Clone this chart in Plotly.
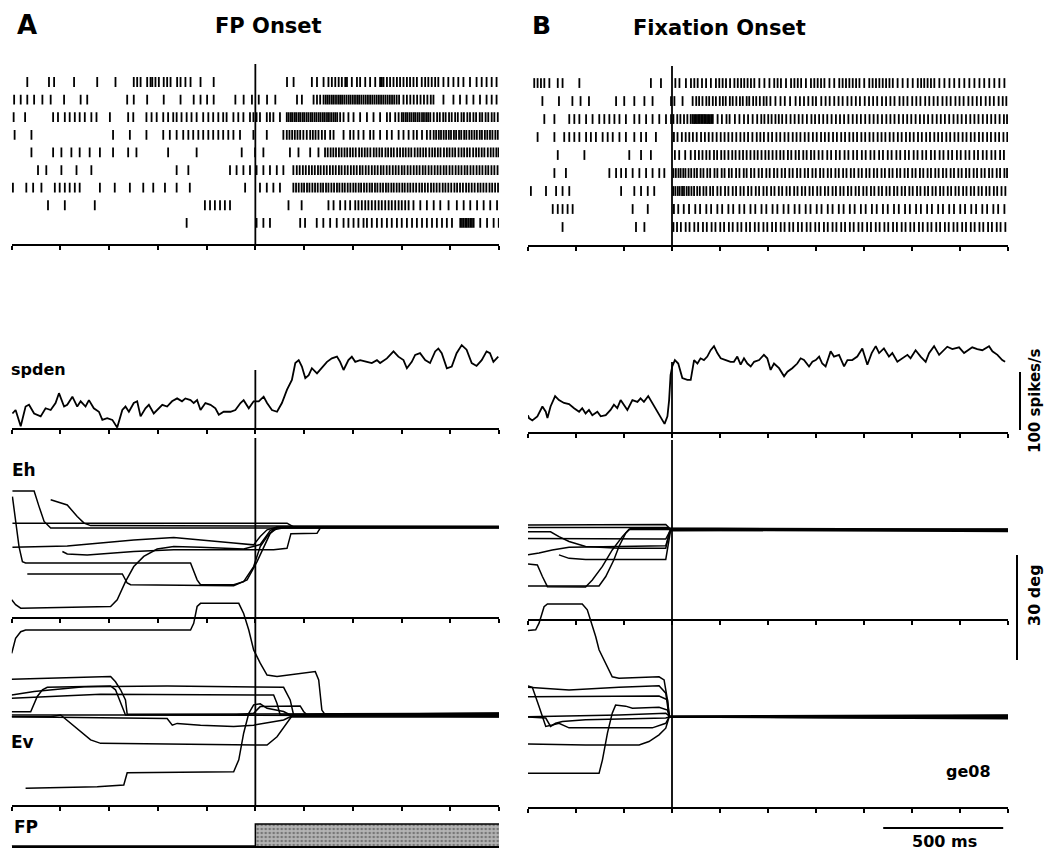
import plotly.graph_objects as go

W, H = 1049, 852

# ---------------- spike rasters: spike times (ms) per trial ----------------
raster_a = [
    [-936, -847, -826, -744, -649, -574, -499, -485, -471, -444, -430, -423, -410, -396, -376, -362, -348, -321, -307,
     -287, -266, -225, -171, 130, 157, 232, 253, 280, 300, 314, 328, 342, 355, 369, 376, 396, 417, 430, 451, 471, 492,
     512, 519, 526, 540, 553, 567, 581, 594, 608, 622, 635, 649, 663, 683, 697, 710, 724, 738, 751, 772, 792, 813, 833,
     854, 881, 908, 929, 949, 970, 990],
    [-990, -963, -936, -908, -874, -840, -785, -717, -690, -526, -499, -444, -376, -307, -253, -225, -198, -171, -82,
     -48, -14, 14, 48, 82, 171, 191, 239, 253, 266, 280, 289, 297, 305, 314, 322, 331, 340, 348, 356, 365, 374, 383,
     391, 400, 409, 418, 426, 435, 444, 453, 462, 471, 480, 489, 498, 507, 516, 525, 534, 543, 552, 561, 570, 580, 590,
     608, 622, 636, 650, 664, 678, 692, 706, 720, 731, 772, 813, 840, 867, 895, 922, 949, 970, 990],
    [-992, -945, -830, -810, -782, -762, -741, -721, -700, -673, -652, -597, -522, -501, -447, -426, -405, -378, -358,
     -337, -323, -303, -282, -262, -241, -214, -193, -173, -152, -132, -118, -90, -70, -49, -22, -8, 5, 19, 47, 60, 74,
     101, 129, 137, 146, 153, 162, 169, 178, 185, 194, 201, 210, 218, 227, 234, 243, 251, 260, 268, 277, 285, 294, 302,
     311, 320, 328, 336, 348, 362, 382, 403, 430, 458, 485, 512, 540, 553, 574, 588, 601, 608, 617, 624, 633, 641, 650,
     657, 666, 674, 684, 692, 701, 709, 718, 732, 746, 757, 771, 781, 795, 806, 820, 831, 846, 856, 870, 881, 895, 906,
     921, 931, 945, 956, 970, 981, 995],
    [-988, -919, -584, -515, -447, -378, -351, -323, -296, -275, -255, -234, -214, -193, -173, -152, -132, -111, -90,
     -63, -8, 47, 115, 129, 140, 151, 162, 173, 184, 197, 211, 225, 236, 247, 259, 273, 286, 307, 321, 362, 389, 403,
     423, 444, 471, 485, 512, 540, 560, 588, 608, 629, 649, 663, 684, 704, 718, 732, 742, 753, 762, 773, 783, 794, 803,
     815, 824, 836, 845, 857, 866, 878, 888, 899, 909, 921, 930, 942, 952, 963, 973, 985, 995],
    [-919, -830, -796, -755, -721, -680, -638, -584, -522, -488, -358, -241, -56, -1, 33, 142, 177, 225, 259, 286, 297,
     309, 320, 331, 343, 354, 366, 377, 389, 400, 412, 426, 437, 449, 460, 472, 486, 497, 509, 520, 534, 545, 557, 568,
     582, 594, 606, 617, 629, 640, 654, 666, 677, 689, 700, 714, 726, 737, 749, 760, 774, 786, 797, 809, 820, 834, 846,
     857, 869, 880, 894, 906, 917, 929, 940, 954, 966, 977, 989, 998],
    [-892, -858, -796, -734, -673, -323, -275, -104, -77, -49, -22, 5, 33, 60, 88, 115, 156, 170, 182, 195, 207, 220,
     232, 244, 257, 268, 281, 293, 306, 318, 330, 343, 354, 367, 379, 392, 404, 416, 429, 440, 453, 465, 478, 490, 502,
     515, 526, 539, 551, 564, 576, 588, 601, 612, 625, 637, 650, 662, 674, 687, 698, 711, 723, 736, 748, 760, 773, 784,
     797, 809, 822, 834, 846, 859, 870, 883, 895, 908, 920, 932, 945, 956, 969, 981, 994],
    [-995, -940, -912, -878, -823, -803, -782, -762, -741, -721, -638, -577, -515, -460, -419, -371, -323, -269, -42,
     19, 47, 74, 101, 156, 167, 178, 190, 200, 212, 222, 234, 245, 256, 268, 278, 290, 300, 312, 323, 335, 345, 357,
     367, 379, 390, 402, 412, 424, 434, 446, 457, 469, 479, 491, 501, 513, 524, 536, 546, 558, 568, 580, 591, 603, 613,
     625, 636, 648, 660, 673, 684, 696, 708, 721, 732, 744, 756, 769, 780, 792, 804, 817, 828, 840, 852, 865, 876, 888,
     900, 913, 924, 936, 948, 961, 972, 984, 996],
    [-851, -782, -659, -207, -186, -166, -145, -125, -104, 136, 190, 300, 321, 348, 369, 389, 410, 423, 437, 451, 464,
     478, 492, 506, 519, 533, 547, 560, 574, 588, 601, 615, 629, 649, 677, 704, 732, 759, 793, 827, 855, 882, 910, 937,
     964, 992],
    [-282, 5, 33, 60, 184, 204, 252, 279, 307, 334, 362, 382, 403, 423, 444, 458, 478, 499, 519, 540, 560, 581, 601,
     622, 643, 663, 684, 704, 725, 745, 766, 786, 807, 841, 848, 855, 862, 868, 875, 882, 889, 896, 923, 951, 978, 999],
]

raster_b = [
    [-574, -560, -546, -532, -511, -476, -456, -386, -88, -46, 14, 31, 58, 79, 93, 107, 125, 142, 162, 183, 197, 211,
     225, 242, 260, 274, 288, 301, 315, 329, 343, 364, 385, 406, 426, 440, 454, 475, 496, 510, 524, 538, 558, 579, 593,
     607, 621, 635, 656, 676, 697, 711, 725, 739, 753, 767, 781, 801, 822, 836, 850, 864, 878, 892, 906, 920, 940, 961,
     982, 1003, 1024, 1038, 1051, 1065, 1079, 1093, 1114, 1135, 1156, 1176, 1197, 1218, 1239, 1260, 1281, 1301, 1322,
     1343, 1364, 1385],
    [-540, -471, -415, -381, -346, -233, -199, -157, -115, -81, -4, 10, 44, 86, 101, 113, 127, 143, 155, 170, 183, 199,
     212, 224, 241, 253, 268, 283, 295, 311, 322, 338, 351, 366, 382, 394, 410, 431, 452, 470, 492, 515, 533, 550, 568,
     586, 600, 622, 640, 657, 676, 694, 711, 731, 748, 766, 783, 803, 821, 838, 855, 875, 892, 910, 927, 948, 964, 981,
     1001, 1018, 1035, 1055, 1072, 1090, 1107, 1127, 1144, 1161, 1181, 1198, 1215, 1235, 1252, 1270, 1287, 1307, 1324,
     1341, 1361, 1378, 1393],
    [-532, -490, -428, -407, -386, -358, -331, -303, -282, -261, -240, -219, -192, -157, -136, -108, -81, -53, -25, -4,
     6, 22, 35, 50, 64, 78, 86, 92, 98, 104, 110, 116, 122, 128, 134, 140, 146, 152, 158, 164, 170, 190, 208, 227, 240,
     262, 281, 300, 317, 336, 355, 372, 385, 401, 415, 431, 445, 459, 476, 494, 511, 528, 544, 562, 581, 596, 613, 630,
     647, 665, 683, 700, 717, 735, 753, 770, 787, 805, 823, 840, 857, 875, 893, 910, 927, 945, 963, 980, 997, 1015, 1033,
     1050, 1067, 1085, 1103, 1120, 1137, 1155, 1173, 1190, 1207, 1225, 1243, 1260, 1277, 1295, 1313, 1330, 1347, 1365,
     1383, 1396],
    [-560, -490, -449, -428, -407, -386, -358, -338, -317, -289, -268, -247, -219, -192, -157, -129, -108, -67, 8, 23,
     41, 57, 72, 87, 103, 121, 137, 153, 169, 186, 203, 219, 235, 251, 268, 285, 301, 317, 335, 353, 368, 383, 401, 417,
     435, 451, 469, 485, 503, 519, 535, 553, 569, 587, 603, 621, 637, 653, 671, 687, 705, 721, 739, 755, 771, 789, 805,
     823, 839, 857, 873, 889, 907, 923, 941, 957, 975, 991, 1007, 1025, 1041, 1059, 1075, 1093, 1109, 1125, 1143, 1159,
     1177, 1193, 1211, 1227, 1245, 1261, 1279, 1295, 1313, 1329, 1347, 1363, 1381, 1397],
    [-476, -365, -178, -129, -88, 12, 30, 55, 78, 96, 112, 127, 143, 157, 175, 188, 205, 219, 235, 251, 265, 281, 296,
     311, 327, 343, 357, 373, 389, 403, 419, 435, 451, 465, 483, 497, 515, 529, 547, 561, 579, 593, 611, 627, 647, 663,
     683, 699, 719, 735, 755, 771, 791, 807, 827, 843, 863, 879, 899, 915, 935, 951, 971, 987, 1007, 1023, 1043, 1059,
     1079, 1095, 1115, 1131, 1151, 1167, 1187, 1203, 1223, 1239, 1259, 1275, 1295, 1311, 1331, 1347, 1367, 1383],
    [-490, -442, -261, -233, -212, -192, -164, -136, -108, -81, -53, -32, 6, 16, 27, 36, 47, 56, 69, 80, 93, 104, 119,
     131, 147, 159, 177, 189, 207, 219, 237, 249, 267, 281, 299, 311, 329, 343, 361, 375, 393, 407, 425, 439, 457, 471,
     489, 503, 521, 535, 553, 567, 585, 599, 617, 631, 649, 663, 681, 695, 713, 727, 745, 759, 777, 791, 809, 823, 841,
     855, 873, 887, 905, 919, 937, 951, 969, 983, 1001, 1015, 1033, 1047, 1065, 1079, 1097, 1111, 1129, 1143, 1161,
     1175, 1193, 1207, 1225, 1239, 1257, 1271, 1289, 1303, 1321, 1335, 1353, 1367, 1385, 1396],
    [-588, -525, -483, -456, -428, -212, -157, -129, -101, -74, 5, 14, 24, 32, 42, 50, 61, 70, 81, 92, 105, 116, 131,
     143, 159, 171, 189, 203, 221, 235, 253, 267, 285, 299, 317, 331, 349, 363, 381, 395, 413, 427, 445, 459, 477, 491,
     509, 523, 541, 555, 573, 587, 605, 619, 637, 651, 669, 683, 701, 715, 733, 747, 765, 779, 797, 811, 829, 843, 861,
     875, 893, 907, 925, 939, 957, 971, 989, 1003, 1021, 1035, 1053, 1067, 1085, 1099, 1117, 1131, 1149, 1163, 1181,
     1195, 1213, 1227, 1245, 1259, 1277, 1291, 1309, 1323, 1341, 1355, 1373, 1389],
    [-497, -476, -456, -435, -414, -164, -101, 8, 26, 49, 71, 97, 117, 143, 163, 189, 209, 235, 255, 281, 301, 327, 347,
     373, 393, 419, 439, 465, 485, 511, 531, 557, 577, 603, 623, 649, 669, 695, 715, 741, 761, 787, 807, 833, 853, 879,
     899, 925, 945, 971, 991, 1017, 1037, 1063, 1083, 1109, 1129, 1155, 1175, 1201, 1221, 1247, 1267, 1293, 1313, 1339,
     1359, 1385],
    [-456, -150, -115, 6, 21, 37, 57, 73, 93, 109, 129, 145, 165, 181, 201, 217, 237, 253, 273, 289, 309, 325, 345, 361,
     381, 397, 417, 433, 453, 469, 489, 505, 525, 541, 561, 577, 597, 613, 633, 649, 669, 685, 705, 721, 741, 757, 777,
     793, 813, 829, 849, 865, 885, 901, 921, 937, 957, 973, 993, 1009, 1029, 1045, 1065, 1081, 1101, 1117, 1137, 1153,
     1173, 1189, 1209, 1225, 1245, 1261, 1281, 1297, 1317, 1333, 1353, 1369, 1389],
]

# ---------------- spike density (time ms, spikes/s) ----------------
spden_a = [
    (-997, 25), (-984, 31), (-963, 3), (-943, 37), (-929, 40), (-908, 25), (-881, 20), (-861, 34), (-840, 31),
    (-820, 43), (-806, 60), (-785, 37), (-772, 40), (-751, 54), (-731, 37), (-717, 46), (-697, 37), (-683, 48),
    (-663, 34), (-642, 28), (-628, 14), (-608, 17), (-587, 14), (-567, 1), (-546, 31), (-533, 37), (-519, 28),
    (-499, 43), (-485, 46), (-471, 20), (-451, 34), (-437, 40), (-417, 25), (-403, 31), (-382, 40), (-362, 37),
    (-342, 46), (-321, 51), (-301, 46), (-287, 51), (-266, 48), (-253, 43), (-239, 48), (-225, 31), (-205, 43),
    (-184, 40), (-164, 34), (-150, 23), (-130, 28), (-102, 28), (-82, 31), (-61, 43), (-48, 48), (-27, 34), (-7, 46),
    (14, 46), (34, 54), (48, 43), (68, 31), (89, 28), (109, 43), (130, 66), (150, 83), (164, 112), (178, 117),
    (191, 106), (205, 86), (219, 91), (232, 103), (253, 94), (273, 103), (294, 114), (314, 120), (335, 123), (348, 114),
    (362, 100), (382, 117), (396, 123), (410, 114), (430, 117), (458, 114), (478, 112), (499, 117), (512, 112),
    (540, 120), (567, 132), (587, 123), (608, 117), (622, 103), (642, 114), (656, 126), (676, 129), (697, 117),
    (717, 112), (738, 132), (751, 137), (765, 129), (786, 103), (806, 106), (826, 129), (847, 143), (867, 135),
    (888, 112), (908, 107), (929, 117), (949, 132), (963, 129), (977, 114), (997, 123),
]

spden_b = [
    (-600, 29), (-596, 24), (-582, 20), (-561, 27), (-540, 44), (-526, 35), (-519, 24), (-506, 44), (-487, 62),
    (-471, 55), (-450, 50), (-429, 48), (-408, 41), (-387, 35), (-374, 41), (-360, 32), (-346, 38), (-332, 29),
    (-311, 35), (-297, 27), (-276, 29), (-256, 38), (-242, 47), (-228, 41), (-214, 55), (-200, 47), (-186, 38),
    (-165, 55), (-144, 52), (-131, 58), (-117, 52), (-99, 62), (-82, 50), (-68, 41), (-54, 32), (-40, 21), (-31, 14),
    (-19, 27), (-12, 55), (-6, 98), (1, 113), (12, 124), (26, 118), (43, 93), (64, 90), (78, 90), (92, 124),
    (106, 118), (119, 127), (133, 124), (147, 130), (161, 141), (175, 148), (189, 136), (203, 127), (224, 124),
    (244, 121), (258, 121), (272, 130), (286, 116), (300, 127), (314, 118), (328, 113), (342, 121), (363, 124),
    (383, 133), (397, 127), (411, 107), (425, 118), (446, 110), (467, 96), (481, 104), (501, 110), (522, 118),
    (536, 127), (550, 124), (571, 113), (585, 121), (599, 124), (613, 130), (626, 118), (640, 113), (661, 139),
    (675, 130), (696, 133), (717, 113), (731, 124), (751, 124), (772, 130), (793, 144), (814, 116), (832, 136),
    (849, 148), (863, 136), (883, 144), (904, 130), (918, 136), (939, 121), (960, 127), (981, 133), (994, 127),
    (1015, 141), (1036, 130), (1057, 121), (1071, 136), (1092, 148), (1113, 133), (1133, 141), (1147, 147),
    (1168, 143), (1196, 146), (1217, 136), (1237, 141), (1251, 146), (1272, 143), (1293, 141), (1321, 148),
    (1335, 139), (1356, 133), (1376, 124), (1388, 121),
]

# ---------------- eye position traces (time ms, deg from fixation point) ----------------
eh_a = [
    [(-997, 10.3), (-908, 10.3), (-888, 5.9), (-867, 1.6), (-840, -0.3), (1000, -0.3)],
    [(-840, 7.8), (-772, 6.3), (-731, 3.0), (-703, 1.1), (-676, 0.4), (1000, 0.2)],
    [(-997, 8.7), (-984, 2.1), (-970, -5.6), (-956, -9.9), (-943, -10.3), (-266, -10.3), (-239, -15.1), (-225, -16.5),
     (-89, -16.5), (-48, -15.6), (-7, -11.3), (20, -5.6), (48, -2.7), (75, -0.8), (116, -0.2), (1000, -0.1)],
    [(-997, 1.1), (130, 1.1), (157, 0.0), (1000, 0.0)],
    [(-997, -5.8), (-772, -5.4), (-499, -3.7), (-335, -3.0), (-89, -4.6), (-7, -5.1), (20, -2.7), (48, -0.8),
     (89, 0.0), (1000, 0.0)],
    [(-792, -7.0), (-772, -7.7), (-690, -8.0), (-499, -7.0), (-335, -6.5), (75, -6.5), (130, -6.1), (146, -1.9),
     (253, -1.8), (269, 0.0), (1000, 0.1)],
    [(-936, -13.4), (-546, -13.4), (-526, -16.0), (-512, -16.5), (-89, -16.8), (-34, -15.1), (7, -9.9), (34, -5.6),
     (61, -1.8), (89, -0.3), (1000, -0.2)],
    [(-1000, -20.8), (-984, -22.2), (-963, -23.2), (-594, -22.7), (-567, -20.8), (-533, -15.6), (-499, -11.3),
     (-458, -8.4), (-403, -6.3), (-335, -5.6), (-225, -5.8), (-48, -6.3), (20, -5.0), (61, -1.0), (89, 0.0),
     (1000, 0.0)],
]

ev_a = [
    [(-1000, 17.6), (-984, 21.9), (-963, 23.8), (-943, 24.3), (-266, 24.3), (-253, 26.2), (-239, 31.0), (-225, 31.9),
     (-68, 31.9), (-48, 29.0), (-27, 24.3), (-7, 18.6), (20, 14.8), (48, 11.4), (89, 11.0), (246, 12.4), (260, 10.0),
     (273, 1.4), (287, 0.0), (1000, 0.3)],
    [(-1000, 10.2), (-594, 11.0), (-574, 9.5), (-553, 7.2), (-533, 4.3), (-526, 0.2), (1000, 0.5)],
    [(-1000, 0.9), (-922, 0.9), (-895, 5.3), (-874, 7.2), (-854, 7.9), (-594, 8.3), (-574, 7.2), (-546, 2.4),
     (-533, 0.0), (1000, -0.3)],
    [(-1000, 4.8), (-635, 5.9), (75, 5.7), (89, 3.3), (102, 0.0), (1000, 0.6)],
    [(-1000, 5.7), (-908, 6.7), (-703, 8.1), (-362, 8.3), (116, 7.9), (143, 4.3), (157, 0.0), (1000, -0.5)],
    [(-1000, -0.5), (-840, -0.5), (-799, 0.0), (-731, -3.8), (-676, -7.1), (-635, -8.1), (-61, -8.6), (48, -8.6),
     (89, -6.2), (130, -2.4), (150, -0.3), (1000, 0.2)],
    [(-943, -20.9), (-649, -20.5), (-540, -20.0), (-526, -16.5), (-89, -16.2), (-68, -12.8), (-48, -5.2), (-27, 0.5),
     (-7, 2.9), (20, 3.2), (48, 1.9), (89, 1.4), (116, 1.0), (143, 0.0), (1000, -0.2)],
    [(-1000, -0.5), (-362, -1.0), (-341, -2.9), (-321, -2.4), (-225, -2.9), (-89, -3.3), (-7, -2.9), (116, -1.4),
     (143, -0.5), (1000, -0.6)],
    [(-1000, 0.0), (-89, 0.0), (-7, 0.5), (20, 2.4), (184, 2.6), (198, 1.0), (212, 0.0), (1000, 0.1)],
]

eh_b = [
    [(-600, 1.4), (-26, 1.6), (-10, 0.5), (1400, 0.0)],
    [(-600, 0.7), (-19, 0.7), (-6, 0.0), (1400, 0.3)],
    [(-600, -0.5), (-506, -0.5), (-471, -1.9), (-429, -3.3), (-360, -4.7), (-221, -5.2), (-26, -5.2), (-10, -0.5),
     (-1, 0.0), (1400, -0.2)],
    [(-600, -2.4), (-221, -2.4), (-26, -2.6), (-6, 0.0), (1400, 0.1)],
    [(-600, -7.1), (-554, -6.6), (-499, -5.7), (-429, -4.9), (-221, -4.7), (-26, -4.5), (-6, 0.0), (1400, -0.4)],
    [(-471, -7.1), (-429, -8.1), (-360, -8.4), (-26, -8.4), (-6, -0.2), (1400, 0.0)],
    [(-600, -9.7), (-561, -10.0), (-540, -13.3), (-519, -16.2), (-360, -16.3), (-332, -14.3), (-290, -10.4),
     (-249, -5.7), (-207, -1.9), (-179, 0.2), (1400, 0.1)],
    [(-600, -16.0), (-304, -16.0), (-276, -13.3), (-242, -8.5), (-221, -4.7), (-193, -0.9), (-172, 0.5), (1400, 0.2)],
]

ev_b = [
    [(-600, 24.7), (-568, 24.9), (-554, 26.8), (-533, 31.5), (-519, 32.3), (-374, 32.3), (-353, 30.6), (-339, 27.7),
     (-318, 23.0), (-304, 19.2), (-276, 15.3), (-249, 11.5), (-221, 11.1), (-54, 11.5), (-33, 10.6), (-19, 4.9),
     (-12, 0.0), (1400, 0.2)],
    [(-600, 8.9), (-582, 8.5), (-554, 3.0), (-526, -2.7), (-499, -2.3), (-471, -1.8), (-429, -3.1), (-360, -3.1),
     (-82, -3.1), (-26, -1.8), (-12, 0.0), (1400, -0.3)],
    [(-600, 8.5), (-429, 7.7), (-221, 8.5), (-54, 8.9), (-26, 6.8), (-12, 0.0), (1400, 0.4)],
    [(-600, 5.8), (-221, 5.8), (-54, 6.0), (-19, 4.9), (-10, 0.0), (1400, -0.5)],
    [(-600, -16.1), (-304, -16.1), (-290, -12.3), (-269, -4.6), (-249, 1.1), (-235, 3.4), (-193, 3.1), (-165, 2.5),
     (-54, 2.8), (-19, 2.0), (-10, 0.0), (1400, 0.3)],
    [(-600, -7.7), (-360, -8.0), (-137, -8.0), (-96, -7.0), (-54, -5.1), (-26, -3.2), (-12, 0.0), (1400, -0.2)],
    [(-600, 0.0), (-526, -0.3), (-506, -2.7), (-485, -1.8), (-457, -1.3), (-360, -0.8), (-26, -0.3), (-12, 0.0),
     (1400, 0.0)],
    [(-600, 0.1), (-221, 0.6), (-26, 1.1), (-12, 0.3), (1400, 0.6)],
]

# fixation point state (off/on) around FP onset
fp_t = [-1000, 0, 1000]
fp_on = [0, 1, 1]

# calibration bars
bar_rate = 100   # spikes/s
bar_deg = 30     # deg
bar_ms = 500     # ms

# ---------------- layout geometry (pixels) ----------------
cols = {
    "A": dict(dom=(11.7, 499.0), rng=[-1000, 1000], tick0=-1000),
    "B": dict(dom=(528.0, 1008.0), rng=[-600, 1400], tick0=-600),
}
# name, column, top px, bottom px, y range, tick marks on the time axis
panels = [
    ("ra", "A", 60, 244, [10.2, -0.25], True),
    ("sa", "A", 335, 428, [0, 160.3], True),
    ("ha", "A", 440, 617, [-25.71, 24.86], True),
    ("va", "A", 585, 805, [-25.71, 37.14], True),
    ("fa", "A", 815, 846, [0, 1.41], False),
    ("rb", "B", 60, 245, [10.0, -0.28], True),
    ("sb", "B", 335, 432, [0, 167.2], True),
    ("hb", "B", 440, 619, [-25.43, 25.71], True),
    ("vb", "B", 550, 807, [-25.71, 47.71], True),
]


def fx(p):
    return p / W


def fy(p):
    return 1 - p / H


layout = dict(
    width=W, height=H, margin=dict(l=0, r=0, t=0, b=0),
    paper_bgcolor="white", plot_bgcolor="rgba(0,0,0,0)", showlegend=False,
)
ref = {}
for i, (name, col, top, bot, yr, ticks) in enumerate(panels):
    n = i + 1
    sx = "" if n == 1 else str(n)
    ref[name] = ("x" + sx, "y" + sx)
    c = cols[col]
    layout["xaxis" + sx] = dict(
        domain=[fx(c["dom"][0]), fx(c["dom"][1])], range=c["rng"], anchor="y" + sx,
        showline=True, linewidth=2, linecolor="black", mirror=False,
        ticks="outside" if ticks else "", ticklen=4, tickwidth=1.6, tickcolor="black",
        tickmode="linear", tick0=c["tick0"], dtick=200,
        showticklabels=False, showgrid=False, zeroline=False, fixedrange=True,
    )
    layout["yaxis" + sx] = dict(
        domain=[fy(bot), fy(top)], range=yr, anchor="x" + sx, visible=False,
        showgrid=False, zeroline=False, fixedrange=True,
    )

fig = go.Figure()
black = "black"


def add_raster(trials, panel):
    xr, yr = ref[panel]
    xs, ys = [], []
    for k, spikes in enumerate(trials):
        xs += spikes
        ys += [k + 1] * len(spikes)
    fig.add_trace(go.Scatter(
        x=xs, y=ys, mode="markers", xaxis=xr, yaxis=yr, hoverinfo="skip",
        marker=dict(symbol="line-ns", size=7, line=dict(width=1.8, color=black)),
    ))


def add_curve(points, panel, width=1.5):
    xr, yr = ref[panel]
    fig.add_trace(go.Scatter(
        x=[p[0] for p in points], y=[p[1] for p in points], mode="lines",
        xaxis=xr, yaxis=yr, hoverinfo="skip", line=dict(color=black, width=width),
    ))


add_raster(raster_a, "ra")
add_raster(raster_b, "rb")
add_curve(spden_a, "sa", 1.8)
add_curve(spden_b, "sb", 1.8)
for tr in eh_a:
    add_curve(tr, "ha")
for tr in ev_a:
    add_curve(tr, "va")
for tr in eh_b:
    add_curve(tr, "hb")
for tr in ev_b:
    add_curve(tr, "vb")

# fixation point on/off trace
xr, yr = ref["fa"]
fig.add_trace(go.Scatter(
    x=fp_t, y=fp_on, mode="lines", line_shape="hv", fill="tozeroy",
    xaxis=xr, yaxis=yr, hoverinfo="skip", line=dict(color=black, width=1.5),
    fillcolor="#a8a8a8",
    fillpattern=dict(shape=".", fgcolor="#3a3a3a", bgcolor="#b4b4b4", size=4, solidity=0.35),
))

# alignment lines at time zero
shapes = []
for panel, y0, y1 in [("ra", 244, 64), ("sa", 428, 370), ("ha", 805, 438),
                      ("rb", 245, 66), ("sb", 432, 362), ("hb", 807, 440)]:
    shapes.append(dict(type="line", xref=ref[panel][0], yref="paper", x0=0, x1=0,
                       y0=fy(y0), y1=fy(y1), line=dict(color=black, width=1.8)))

# calibration bars
spb = ref["sb"][1]
shapes.append(dict(type="line", xref="paper", yref=spb, x0=fx(1020), x1=fx(1020),
                   y0=3.4, y1=3.4 + bar_rate, line=dict(color=black, width=2)))
evb = ref["vb"][1]
shapes.append(dict(type="line", xref="paper", yref=evb, x0=fx(1017), x1=fx(1017),
                   y0=16.3, y1=16.3 + bar_deg, line=dict(color=black, width=2)))
tb = ref["vb"][0]
shapes.append(dict(type="line", xref=tb, yref="paper", x0=880, x1=880 + bar_ms,
                   y0=fy(828), y1=fy(828), line=dict(color=black, width=2)))

FONT = "DejaVu Sans"


def label(text, x, y, size, xanchor="center", angle=0):
    return dict(text="<b>%s</b>" % text, x=fx(x), y=fy(y), xref="paper", yref="paper",
                xanchor=xanchor, yanchor="middle", showarrow=False, textangle=angle,
                font=dict(family=FONT, size=size, color=black))


annotations = [
    label("A", 27, 25, 26),
    label("FP Onset", 268, 26, 21),
    label("B", 541, 25, 25),
    label("Fixation Onset", 719, 28, 21),
    label("spden", 9, 370, 16, "left"),
    label("Eh", 10, 470, 17, "left"),
    label("Ev", 9, 742, 17, "left"),
    label("FP", 12, 827, 17, "left"),
    label("100 spikes/s", 1035, 401, 15, angle=-90),
    label("30 deg", 1034, 595, 16, angle=-90),
    label("ge08", 968, 771, 16),
    label("500 ms", 944, 841, 16),
]

layout["shapes"] = shapes
layout["annotations"] = annotations
fig.update_layout(**layout)
fig.write_html("out.html")
